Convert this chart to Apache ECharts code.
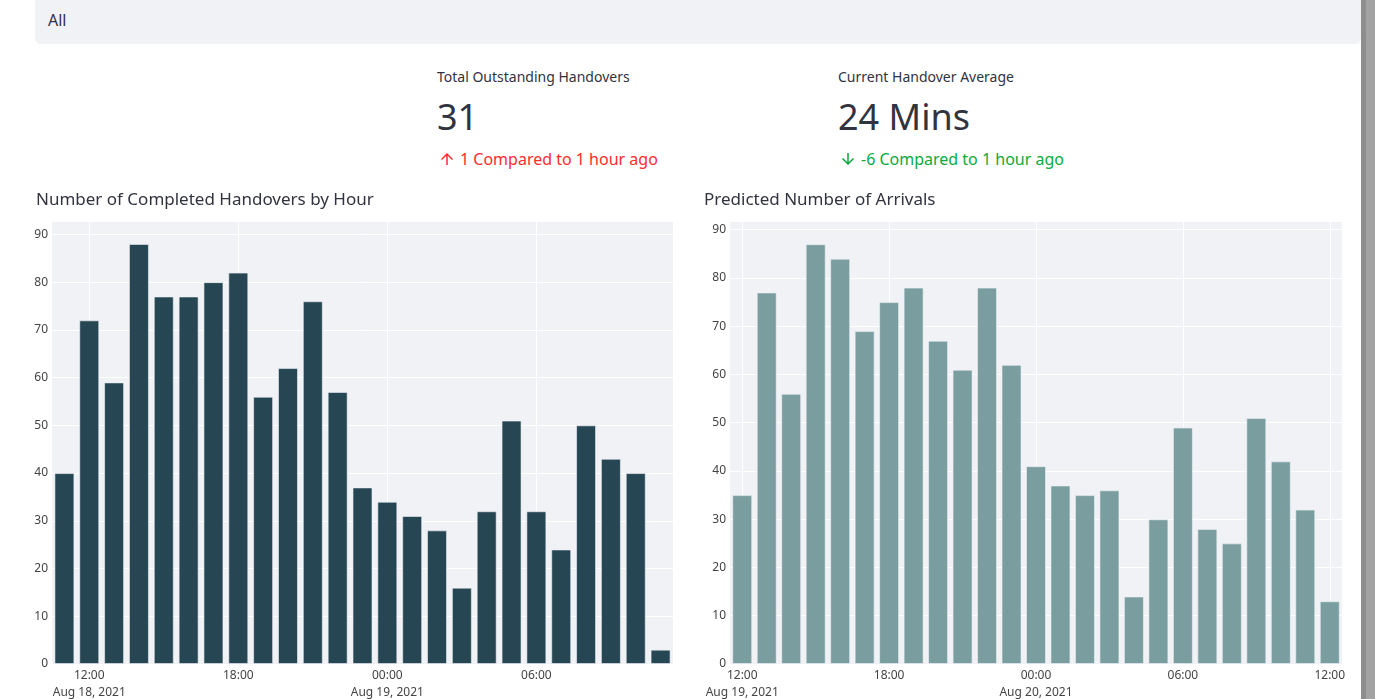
<!DOCTYPE html>
<html>
<head>
<meta charset="utf-8">
<script src="https://cdn.jsdelivr.net/npm/echarts@6/dist/echarts.min.js"></script>
<style>
  html, body { margin: 0; padding: 0; background: #fff; width: 1375px; height: 699px; overflow: hidden; font-family: "Noto Sans", sans-serif; color: #31333f; }
  #topbar { position: absolute; left: 35px; top: -6px; width: 1326px; height: 50px; background: #f0f2f6; border-radius: 6px; }
  #topbar span { position: absolute; left: 13px; top: 15px; font-size: 16px; }
  #scroll { position: absolute; left: 1361px; top: 0; width: 14px; height: 699px; background: linear-gradient(to right, #8e8e8e 0, #8e8e8e 5px, #a3a3a3 5px); }
  .metric { position: absolute; top: 66px; }
  .metric .lbl { font-size: 14px; line-height: 22px; }
  .metric .val { font-size: 36px; line-height: 44px; margin-top: 7px; }
  .metric .delta { font-size: 16px; line-height: 22px; margin-top: 9px; }
  .metric .delta svg { width: 18px; height: 18px; vertical-align: -3px; margin-left: 1px; margin-right: 4px; fill: currentColor; }
  .up { color: #ff2b2b; }
  .down { color: #09ab3b; }
  #chart { position: absolute; left: 0; top: 0; width: 1361px; height: 699px; }
</style>
</head>
<body>
<div id="topbar"><span>All</span></div>
<div class="metric" style="left:437px">
  <div class="lbl">Total Outstanding Handovers</div>
  <div class="val">31</div>
  <div class="delta up"><svg viewBox="0 0 24 24"><path d="M4 12l1.41 1.41L11 7.830V20h2V7.83l5.58 5.59L20 12l-8-8-8 8z"/></svg>1 Compared to 1 hour ago</div>
</div>
<div class="metric" style="left:838px">
  <div class="lbl">Current Handover Average</div>
  <div class="val">24 Mins</div>
  <div class="delta down"><svg viewBox="0 0 24 24"><path d="M20 12l-1.41-1.41L13 16.17V4h-2v12.17l-5.58-5.59L4 12l8 8 8-8z"/></svg>-6 Compared to 1 hour ago</div>
</div>
<div id="chart"></div>
<div id="scroll"></div>
<script>
// hourly buckets, completed handovers
const completedTimes = [
  '2021-08-18 11:00', '2021-08-18 12:00', '2021-08-18 13:00', '2021-08-18 14:00', '2021-08-18 15:00',
  '2021-08-18 16:00', '2021-08-18 17:00', '2021-08-18 18:00', '2021-08-18 19:00', '2021-08-18 20:00',
  '2021-08-18 21:00', '2021-08-18 22:00', '2021-08-18 23:00', '2021-08-19 00:00', '2021-08-19 01:00',
  '2021-08-19 02:00', '2021-08-19 03:00', '2021-08-19 04:00', '2021-08-19 05:00', '2021-08-19 06:00',
  '2021-08-19 07:00', '2021-08-19 08:00', '2021-08-19 09:00', '2021-08-19 10:00', '2021-08-19 11:00'
];
const completedValues = [40, 72, 59, 88, 77, 77, 80, 82, 56, 62, 76, 57, 37, 34, 31, 28, 16, 32, 51, 32, 24, 50, 43, 40, 3];

// predicted arrivals
const arrivalTimes = [
  '2021-08-19 12:00', '2021-08-19 13:00', '2021-08-19 14:00', '2021-08-19 15:00', '2021-08-19 16:00',
  '2021-08-19 17:00', '2021-08-19 18:00', '2021-08-19 19:00', '2021-08-19 20:00', '2021-08-19 21:00',
  '2021-08-19 22:00', '2021-08-19 23:00', '2021-08-20 00:00', '2021-08-20 01:00', '2021-08-20 02:00',
  '2021-08-20 03:00', '2021-08-20 04:00', '2021-08-20 05:00', '2021-08-20 06:00', '2021-08-20 07:00',
  '2021-08-20 08:00', '2021-08-20 09:00', '2021-08-20 10:00', '2021-08-20 11:00', '2021-08-20 12:00'
];
const arrivalValues = [35, 77, 56, 87, 84, 69, 75, 78, 67, 61, 78, 62, 41, 37, 35, 36, 14, 30, 49, 28, 25, 51, 42, 32, 13];

// x tick positions and their labels
const completedTickTimes = ['2021-08-18 12:00', '2021-08-18 18:00', '2021-08-19 00:00', '2021-08-19 06:00'];
const completedTickLabels = ['12:00\nAug 18, 2021', '18:00', '00:00\nAug 19, 2021', '06:00'];
const arrivalTickTimes = ['2021-08-19 12:00', '2021-08-19 18:00', '2021-08-20 00:00', '2021-08-20 06:00', '2021-08-20 12:00'];
const arrivalTickLabels = ['12:00\nAug 19, 2021', '18:00', '00:00\nAug 20, 2021', '06:00', '12:00'];

const yTicks = [0, 10, 20, 30, 40, 50, 60, 70, 80, 90];

const HALF_HOUR = 30 * 60 * 1000;

function toMs(s) {
  const [d, t] = s.split(' ');
  const [y, m, day] = d.split('-').map(Number);
  const [h, mi] = t.split(':').map(Number);
  return Date.UTC(y, m - 1, day, h, mi);
}

function makeX(gridIndex, times, tickTimes, tickLabels) {
  const ticks = tickTimes.map(toMs);
  const labelMap = {};
  ticks.forEach((v, i) => { labelMap[v] = tickLabels[i]; });
  return {
    type: 'value',
    gridIndex: gridIndex,
    min: toMs(times[0]) - HALF_HOUR,
    max: toMs(times[times.length - 1]) + HALF_HOUR,
    axisLine: { show: false },
    axisTick: { show: false, customValues: ticks },
    axisLabel: {
      customValues: ticks,
      formatter: (v) => labelMap[v] || '',
      color: '#444',
      fontSize: 12,
      lineHeight: 17,
      margin: 3,
      fontFamily: 'Noto Sans'
    },
    splitLine: { show: true, lineStyle: { color: '#ffffff', width: 1 } }
  };
}

function makeY(gridIndex, max) {
  return {
    type: 'value',
    gridIndex: gridIndex,
    min: 0,
    max: max,
    axisLine: { show: false },
    axisTick: { show: false, customValues: yTicks },
    axisLabel: { customValues: yTicks, color: '#444', fontSize: 12, margin: 4, fontFamily: 'Noto Sans' },
    splitLine: { show: true, lineStyle: { color: '#ffffff', width: 1 } }
  };
}

const chart = echarts.init(document.getElementById('chart'));
chart.setOption({
  animation: false,
  title: [
    { text: 'Number of Completed Handovers by Hour', left: 31, top: 187, textStyle: { fontSize: 17, fontWeight: 'normal', color: '#31333f', fontFamily: 'Noto Sans' } },
    { text: 'Predicted Number of Arrivals', left: 699, top: 187, textStyle: { fontSize: 17, fontWeight: 'normal', color: '#31333f', fontFamily: 'Noto Sans' } }
  ],
  grid: [
    { left: 52, top: 222, width: 621, height: 442, show: true, backgroundColor: '#f0f2f6', borderWidth: 0, outerBoundsMode: 'none' },
    { left: 730, top: 222, width: 612, height: 442, show: true, backgroundColor: '#f0f2f6', borderWidth: 0, outerBoundsMode: 'none' }
  ],
  xAxis: [
    makeX(0, completedTimes, completedTickTimes, completedTickLabels),
    makeX(1, arrivalTimes, arrivalTickTimes, arrivalTickLabels)
  ],
  yAxis: [
    makeY(0, 92.6),
    makeY(1, 91.6)
  ],
  series: [
    {
      type: 'bar',
      xAxisIndex: 0,
      yAxisIndex: 0,
      barWidth: 20,
      data: completedTimes.map((t, i) => [toMs(t), completedValues[i]]),
      itemStyle: { color: '#264653', borderColor: 'rgba(240,242,246,0.6)', borderWidth: 1 }
    },
    {
      type: 'bar',
      xAxisIndex: 1,
      yAxisIndex: 1,
      barWidth: 20,
      data: arrivalTimes.map((t, i) => [toMs(t), arrivalValues[i]]),
      itemStyle: { color: '#7a9e9f', borderColor: 'rgba(240,242,246,0.6)', borderWidth: 1 }
    }
  ]
});
</script>
</body>
</html>
